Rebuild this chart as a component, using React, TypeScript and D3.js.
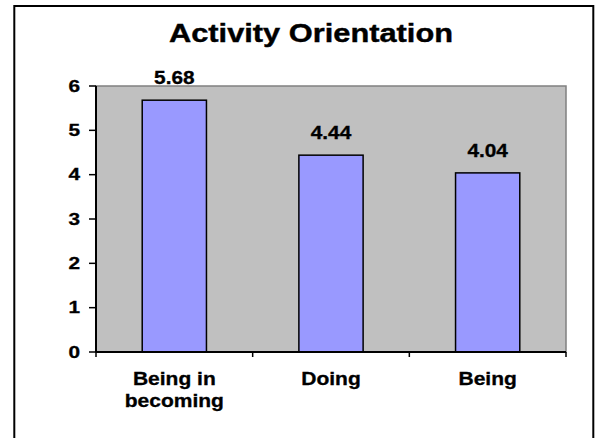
import React from "react";
import * as d3 from "d3";

const title = "Activity Orientation";
const categories = ["Being in becoming", "Doing", "Being"];
const values = [5.68, 4.44, 4.04];
const valueLabels = ["5.68", "4.44", "4.04"];
const yTicks = [0, 1, 2, 3, 4, 5, 6];

const W = 598;
const H = 438;
const plot = { left: 96, right: 566, top: 86, bottom: 352 };
const FONT = "'Liberation Sans', Arial, Helvetica, sans-serif";

function wrap(text: string, maxChars: number): string[] {
  const words = text.split(" ");
  const lines: string[] = [];
  let cur = "";
  for (const w of words) {
    const next = cur ? cur + " " + w : w;
    if (next.length > maxChars && cur) {
      lines.push(cur);
      cur = w;
    } else cur = next;
  }
  if (cur) lines.push(cur);
  return lines;
}

function SText(props: {
  x: number;
  y: number;
  anchor: "start" | "middle" | "end";
  size: number;
  sx: number;
  spacing?: number;
  children: React.ReactNode;
}) {
  return (
    <g transform={`translate(${props.x},${props.y}) scale(${props.sx},1)`}>
      <text
        x={0}
        y={0}
        textAnchor={props.anchor}
        fontSize={props.size}
        fontWeight="bold"
        letterSpacing={props.spacing ?? 0}
        stroke="#000"
        strokeWidth={0.3}
      >
        {props.children}
      </text>
    </g>
  );
}

export default function App() {
  const x = d3
    .scaleBand<string>()
    .domain(categories)
    .range([plot.left, plot.right])
    .paddingInner(0.59)
    .paddingOuter(0.295);
  const y = d3.scaleLinear().domain([0, 6]).range([plot.bottom, plot.top]);
  const step = x.step();
  const boundaries = d3.range(categories.length + 1).map((i) => plot.left + i * step);

  return (
    <svg
      width={W}
      height={H}
      style={{ position: "absolute", left: 0, top: 0, background: "#fff" }}
      fontFamily={FONT}
    >
      <rect x={0} y={0} width={W} height={H} fill="#fff" />
      <rect x={14.3} y={6} width={579} height={H + 10} fill="none" stroke="#000" strokeWidth={2} />
      <text
        x={311}
        y={41.8}
        textAnchor="middle"
        fontSize={25.5}
        fontWeight="bold"
        textLength={284}
        lengthAdjust="spacingAndGlyphs"
        stroke="#000"
        strokeWidth={0.4}
      >
        {title}
      </text>

      {/* plot area */}
      <rect
        x={plot.left}
        y={plot.top}
        width={plot.right - plot.left}
        height={plot.bottom - plot.top}
        fill="#C0C0C0"
        stroke="#808080"
        strokeWidth={1.5}
      />

      {/* bars */}
      {categories.map((c, i) => (
        <rect
          key={c}
          x={x(c)!}
          y={y(values[i])}
          width={x.bandwidth()}
          height={y(0) - y(values[i])}
          fill="#9999FF"
          stroke="#000"
          strokeWidth={1.5}
        />
      ))}

      {/* value labels */}
      {categories.map((c, i) => (
        <SText
          key={"v" + c}
          x={x(c)! + x.bandwidth() / 2}
          y={y(values[i]) - 16}
          anchor="middle"
          size={17.5}
          sx={1.19}
        >
          {valueLabels[i]}
        </SText>
      ))}

      {/* y axis */}
      <line x1={plot.left} x2={plot.left} y1={plot.top} y2={plot.bottom} stroke="#000" strokeWidth={2} />
      {yTicks.map((t) => (
        <g key={"t" + t}>
          <line x1={89} x2={plot.left} y1={y(t)} y2={y(t)} stroke="#000" strokeWidth={1.5} />
          <SText x={80} y={y(t) + 5.8} anchor="end" size={16} sx={1.3}>
            {t}
          </SText>
        </g>
      ))}

      {/* x axis */}
      <line x1={plot.left} x2={plot.right} y1={plot.bottom} y2={plot.bottom} stroke="#000" strokeWidth={2} />
      {boundaries.map((b, i) => (
        <line key={"b" + i} x1={b} x2={b} y1={plot.bottom} y2={plot.bottom + 5} stroke="#000" strokeWidth={1.5} />
      ))}
      {categories.map((c) => {
        const lines = wrap(c, 9);
        return (
          <g key={"c" + c}>
            {lines.map((l, j) => (
              <SText
                key={j}
                x={x(c)! + x.bandwidth() / 2}
                y={385 + j * 21.7}
                anchor="middle"
                size={17.5}
                sx={1.2}
              >
                {l}
              </SText>
            ))}
          </g>
        );
      })}
    </svg>
  );
}
